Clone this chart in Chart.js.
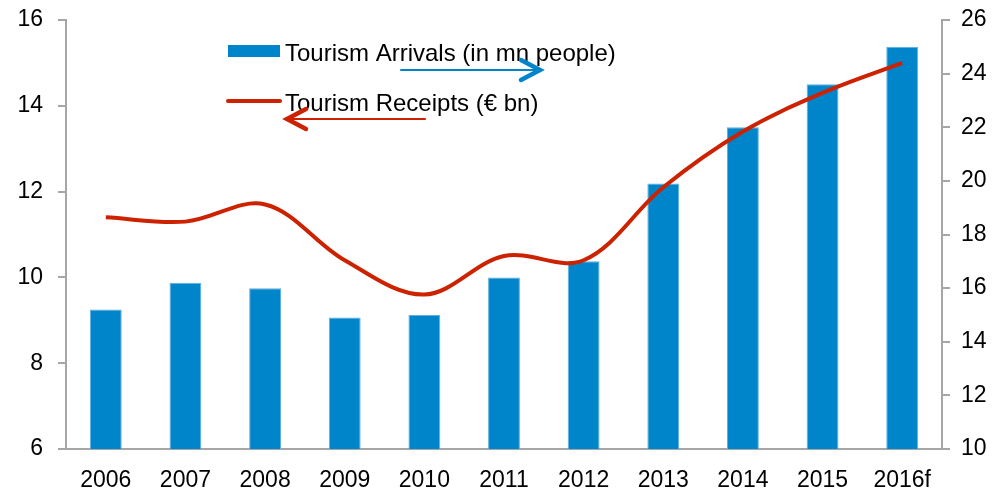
<!DOCTYPE html>
<html>
<head>
<meta charset="utf-8">
<script src="https://cdn.jsdelivr.net/npm/chart.js@4/dist/chart.umd.min.js"></script>
<style>
  html, body { margin: 0; padding: 0; background: #fff; }
  #wrap { width: 1008px; height: 498px; }
</style>
</head>
<body>
<div id="wrap"><canvas id="myChart" width="1008" height="498"></canvas></div>
<script>
// categories
const years = ['2006', '2007', '2008', '2009', '2010', '2011', '2012', '2013', '2014', '2015', '2016f'];
// right axis (bars)
const arrivals = [15.2, 16.2, 16.0, 14.9, 15.0, 16.4, 17.0, 19.9, 22.0, 23.6, 25.0];
// left axis (line)
const receipts = [11.4, 11.3, 11.7, 10.4, 9.6, 10.5, 10.4, 12.1, 13.4, 14.3, 15.0];

const blue = '#0084ca';
const red = '#cc2200';
const axisGrey = '#a6a6a6';
const family = "'Liberation Sans', Arial, sans-serif";
const tickFont = { family: family, size: 23 };
const legendSize = 24;

// legend + arrows drawn inside the plot area
const insideLegend = {
    id: 'insideLegend',
    afterDraw(chart) {
        const ctx = chart.ctx;
        const a = chart.chartArea;
        const x0 = a.left + 162;
        ctx.save();
        ctx.font = `${legendSize}px ${family}`;
        ctx.textBaseline = 'middle';

        // arrivals entry
        ctx.fillStyle = blue;
        ctx.fillRect(x0, a.top + 25, 52, 12);
        ctx.fillStyle = '#000';
        ctx.fillText(chart.data.datasets[1].label, x0 + 57, a.top + 34);

        // receipts entry
        ctx.strokeStyle = red;
        ctx.lineWidth = 4;
        ctx.lineCap = 'round';
        ctx.beginPath();
        ctx.moveTo(x0, a.top + 81);
        ctx.lineTo(x0 + 52, a.top + 81);
        ctx.stroke();
        ctx.fillText(chart.data.datasets[0].label, x0 + 57, a.top + 84);

        // blue arrow -> right axis
        drawArrow(ctx, a.left + 335, a.left + 474, a.top + 50, blue, 1);
        // red arrow -> left axis
        drawArrow(ctx, a.left + 359, a.left + 221, a.top + 99, red, -1);
        ctx.restore();
    }
};

function drawArrow(ctx, xs, xe, y, color, dir) {
    ctx.strokeStyle = color;
    ctx.lineCap = 'round';
    ctx.lineWidth = 2;
    ctx.beginPath();
    ctx.moveTo(xs, y);
    ctx.lineTo(xe, y);
    ctx.stroke();
    ctx.lineWidth = 4.5;
    ctx.beginPath();
    ctx.moveTo(xe - dir * 19, y - 10);
    ctx.lineTo(xe, y);
    ctx.lineTo(xe - dir * 19, y + 10);
    ctx.stroke();
}

function fixSide(scale) {
    scale.width = 66;
    scale.paddingTop = 0;
    scale.paddingBottom = 0;
}

const config = {
    data: {
        labels: years,
        datasets: [
            {
                type: 'line',
                label: 'Tourism Receipts (€ bn)',
                data: receipts,
                yAxisID: 'y',
                borderColor: red,
                borderWidth: 4,
                tension: 0.35,
                pointRadius: 0,
                fill: false,
                order: 0
            },
            {
                type: 'bar',
                label: 'Tourism Arrivals (in mn people)',
                data: arrivals,
                yAxisID: 'y1',
                backgroundColor: blue,
                borderColor: '#5fb0e0',
                borderWidth: 1,
                categoryPercentage: 1,
                barPercentage: 0.4,
                order: 1
            }
        ]
    },
    options: {
        responsive: false,
        animation: false,
        layout: { padding: { top: 20, left: 0, right: 0, bottom: 0 } },
        scales: {
            x: {
                grid: { display: false },
                border: { display: true, color: axisGrey, width: 2 },
                ticks: { color: '#000', font: tickFont, padding: 10, maxRotation: 0 },
                afterFit(scale) { scale.height = 49; }
            },
            y: {
                position: 'left',
                min: 6,
                max: 16,
                ticks: { stepSize: 2, color: '#000', font: tickFont, padding: 15 },
                grid: { drawOnChartArea: false, drawTicks: true, tickLength: 8, color: axisGrey, lineWidth: 2 },
                border: { color: axisGrey, width: 2 },
                afterFit: fixSide
            },
            y1: {
                position: 'right',
                min: 10,
                max: 26,
                ticks: { stepSize: 2, color: '#000', font: tickFont, padding: 11 },
                grid: { drawOnChartArea: false, drawTicks: true, tickLength: 8, color: axisGrey, lineWidth: 2 },
                border: { color: axisGrey, width: 2 },
                afterFit: fixSide
            }
        },
        plugins: {
            legend: { display: false },
            tooltip: { enabled: false }
        }
    },
    plugins: [insideLegend]
};

new Chart(document.getElementById('myChart'), config);
</script>
</body>
</html>
